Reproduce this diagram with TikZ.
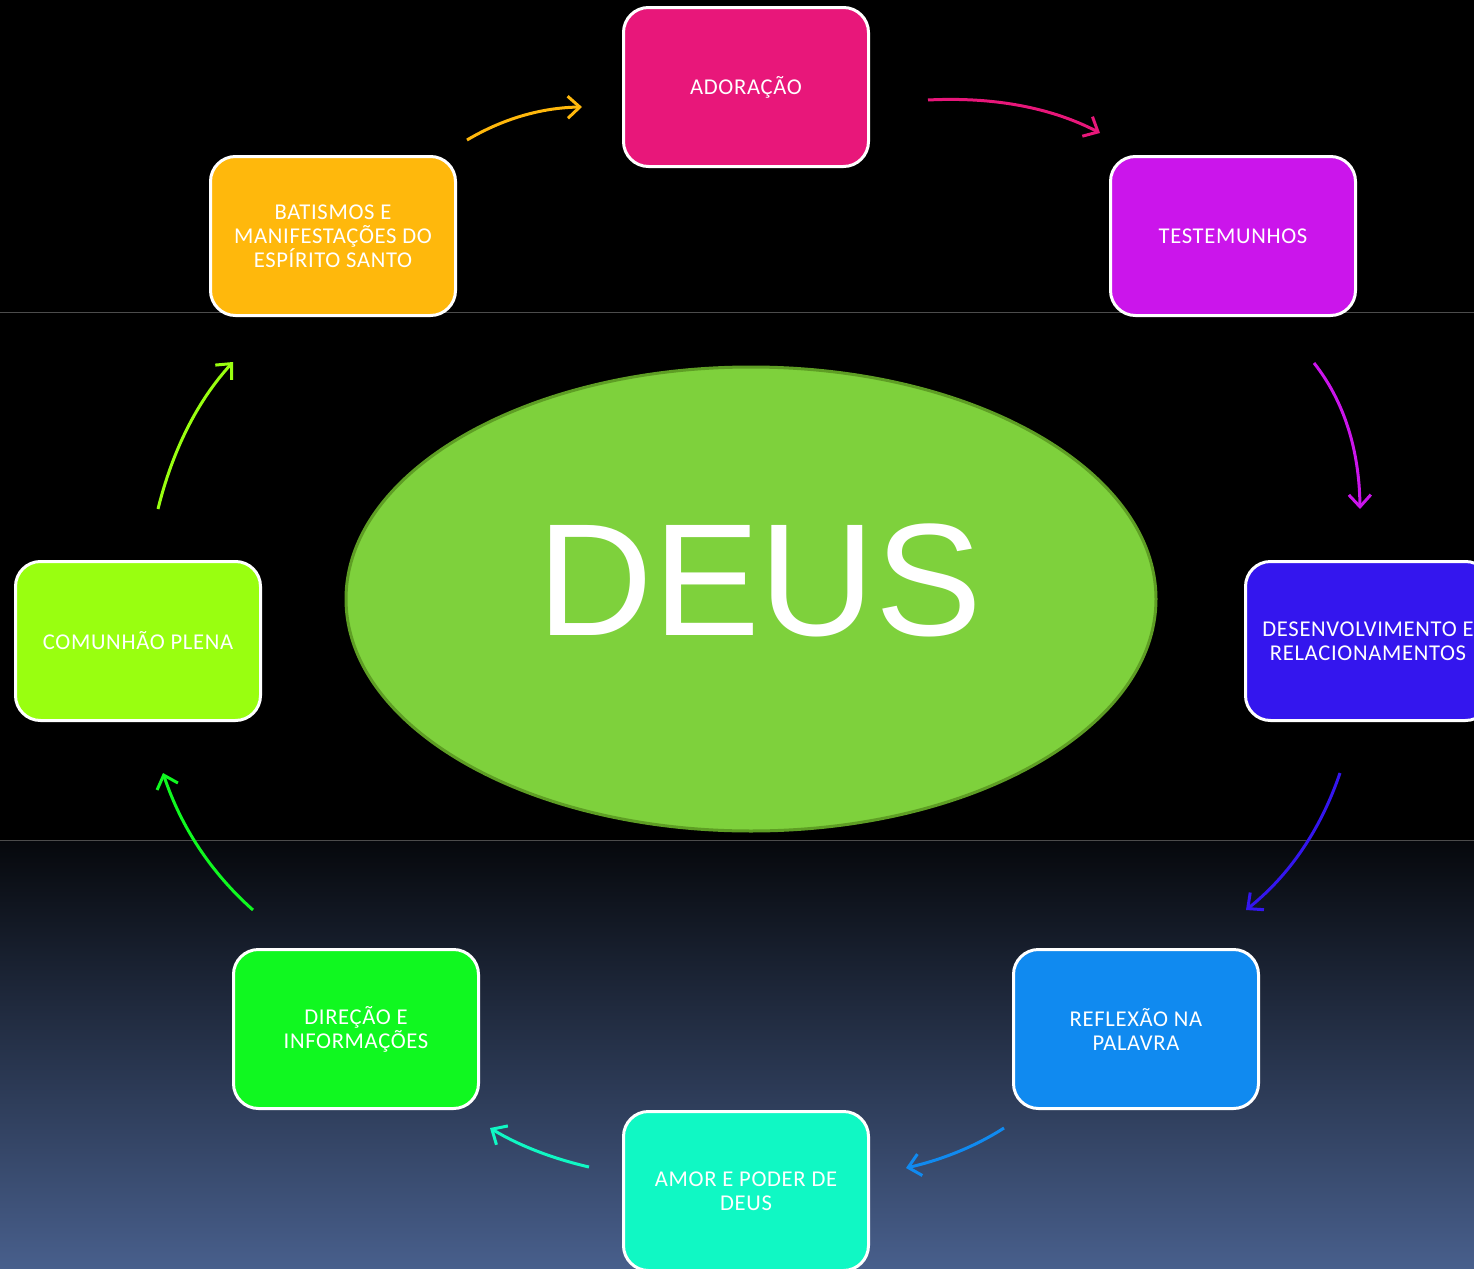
\documentclass[tikz,border=0pt]{standalone}
\usepackage{fontspec}
\setmainfont{Carlito}
\newfontfamily\boxfont[LetterSpace=3]{Carlito}
\newfontfamily\deusfont{Liberation Sans}
\usetikzlibrary{arrows.meta,shapes.geometric,calc}
\definecolor{cAdor}{HTML}{E8177A}
\definecolor{cTest}{HTML}{CB15EB}
\definecolor{cBat}{HTML}{FFB80C}
\definecolor{cDes}{HTML}{3416EE}
\definecolor{cCom}{HTML}{99FF10}
\definecolor{cRef}{HTML}{108AF0}
\definecolor{cDir}{HTML}{10F820}
\definecolor{cAmor}{HTML}{10F8C4}
\definecolor{cEll}{HTML}{7ED13C}
\definecolor{cEllB}{HTML}{5E9E24}
\definecolor{bgTop}{HTML}{06080C}
\definecolor{bgBot}{HTML}{485F8C}
\tikzset{
  stepbox/.style={rectangle, rounded corners=12.5pt, minimum width=122.5pt, minimum height=79.5pt,
    draw=white, line width=1.5pt, text=white, align=center, inner sep=2pt,
    font=\boxfont\fontsize{11.3}{12}\selectfont},
  flow/.style={line width=1.5pt, -{Straight Barb[length=6pt,width=11pt]}}
}
\newcommand{\flowarc}[4]{%
  \draw[flow, #4] (#1) .. controls ($(#1)!0.6667!(#2)$) and ($(#3)!0.6667!(#2)$) .. (#3);}
\begin{document}
\begin{tikzpicture}[x=0.5pt,y=-0.5pt]
\useasboundingbox (0,0) rectangle (1474,1269);
\clip (0,0) rectangle (1474,1269);
\fill[black] (0,0) rectangle (1474,841);
\shade[top color=bgTop, bottom color=bgBot] (0,840) rectangle (1474,1269);
\draw[line width=0.5pt, color=black!70!white] (0,312) -- (1474,312);
\draw[line width=0.5pt, color=black!70!white] (0,840) -- (1474,840);

\node[ellipse, fill=cEll, draw=cEllB, line width=1.5pt, minimum width=405pt, minimum height=232pt] (deus) at (751,599) {};
\node[text=white, font=\deusfont\fontsize{80}{80}\selectfont, inner sep=0pt] (deustxt) at (760,580) {DEUS};

\node[stepbox, fill=cAdor] (ador) at (746,87) {ADORAÇÃO};
\node[stepbox, fill=cTest] (test) at (1233,236) {TESTEMUNHOS};
\node[stepbox, fill=cBat] (bat) at (333,236) {BATISMOS E\\MANIFESTAÇÕES DO\\ESPÍRITO SANTO};
\node[stepbox, fill=cDes] (des) at (1368,641) {DESENVOLVIMENTO E\\RELACIONAMENTOS};
\node[stepbox, fill=cCom] (com) at (138,641) {COMUNHÃO PLENA};
\node[stepbox, fill=cRef] (ref) at (1136,1029) {REFLEXÃO NA\\PALAVRA};
\node[stepbox, fill=cDir] (dir) at (356,1029) {DIREÇÃO E\\INFORMAÇÕES};
\node[stepbox, fill=cAmor] (amor) at (746,1191) {AMOR E PODER DE\\DEUS};

\coordinate (a1s) at (467,140); \coordinate (a1c) at (521,108); \coordinate (a1e) at (582,107);
\coordinate (a2s) at (928,100); \coordinate (a2c) at (1027,95); \coordinate (a2e) at (1100,133);
\coordinate (a3s) at (1314,363); \coordinate (a3c) at (1359,420); \coordinate (a3e) at (1360,509);
\coordinate (a4s) at (1340,773); \coordinate (a4c) at (1311,858); \coordinate (a4e) at (1246,910);
\coordinate (a5s) at (1004,1128); \coordinate (a5c) at (962,1155); \coordinate (a5e) at (906,1168);
\coordinate (a6s) at (589,1167); \coordinate (a6c) at (533,1154); \coordinate (a6e) at (490,1128);
\coordinate (a7s) at (253,910); \coordinate (a7c) at (190,854); \coordinate (a7e) at (163,773);
\coordinate (a8s) at (158,509); \coordinate (a8c) at (180,420); \coordinate (a8e) at (233,362);

\flowarc{a1s}{a1c}{a1e}{cBat}
\flowarc{a2s}{a2c}{a2e}{cAdor}
\flowarc{a3s}{a3c}{a3e}{cTest}
\flowarc{a4s}{a4c}{a4e}{cDes}
\flowarc{a5s}{a5c}{a5e}{cRef}
\flowarc{a6s}{a6c}{a6e}{cAmor}
\flowarc{a7s}{a7c}{a7e}{cDir}
\flowarc{a8s}{a8c}{a8e}{cCom}
\end{tikzpicture}
\end{document}
